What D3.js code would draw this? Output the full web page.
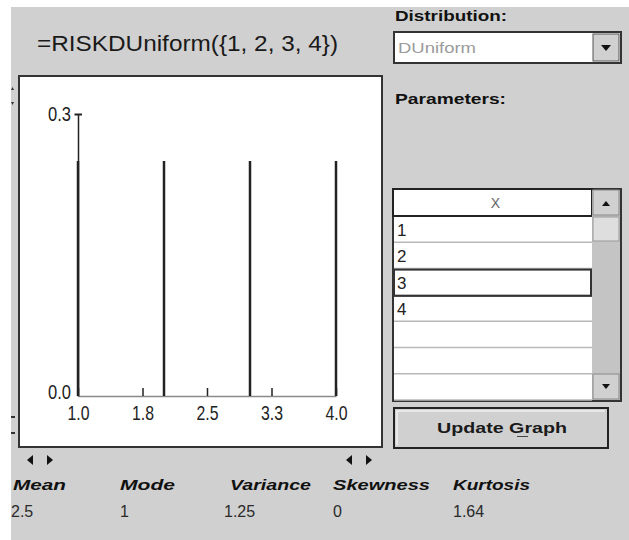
<!DOCTYPE html>
<html><head><meta charset="utf-8">
<script src="https://cdn.jsdelivr.net/npm/d3@7"></script>
<style>body{margin:0;background:#fff}svg{display:block}text{font-family:"Liberation Sans",Arial,sans-serif}</style>
</head><body>
<script>
// ---- data ----
const values = [1, 2, 3, 4];
const probs = [0.25, 0.25, 0.25, 0.25];
const xTickValues = [1, 1.75, 2.5, 3.25, 4];
const xTickLabels = ["1.0", "1.8", "2.5", "3.3", "4.0"];
const yTickValues = [0, 0.3];
const yTickLabels = ["0.0", "0.3"];
const statNames = ["Mean", "Mode", "Variance", "Skewness", "Kurtosis"];
const statValues = ["2.5", "1", "1.25", "0", "1.64"];
const paramRows = ["1", "2", "3", "4", "", "", ""];
const formulaText = "=RISKDUniform({1, 2, 3, 4})";
const distName = "DUniform";

const W = 629, H = 540;
const svg = d3.select("body").append("svg").attr("width", W).attr("height", H);
const GRAY = "#d0d0d0";
const NARROW = "'Liberation Sans Narrow','Liberation Sans',sans-serif";

svg.append("rect").attr("width", W).attr("height", H).attr("fill", "#fff");
svg.append("rect").attr("x", 11).attr("y", 7).attr("width", W - 11).attr("height", H - 7).attr("fill", GRAY);

// title
svg.append("text").attr("x", 37).attr("y", 51).attr("font-size", 22).attr("fill", "#1a1a1a")
  .attr("textLength", 301).attr("lengthAdjust", "spacingAndGlyphs").text(formulaText);

// plot frame
svg.append("rect").attr("x", 19).attr("y", 76).attr("width", 363).attr("height", 371)
  .attr("fill", "#fff").attr("stroke", "#333").attr("stroke-width", 2);

// small spinner marks at left edge
[[87, "up"], [104, "down"], [417, "dash"], [433, "dash"]].forEach(([yy, t]) => {
  if (t === "up") svg.append("path").attr("d", `M11,${yy+3} L14,${yy+3} L12.5,${yy} Z`).attr("fill", "#333");
  else if (t === "down") svg.append("path").attr("d", `M11,${yy-2} L14,${yy-2} L12.5,${yy+1} Z`).attr("fill", "#333");
  else svg.append("rect").attr("x", 11).attr("y", yy - 1).attr("width", 4).attr("height", 2).attr("fill", "#333");
});

// scales
const x = d3.scaleLinear().domain([1, 4]).range([78, 336]);
const y = d3.scaleLinear().domain([0, 0.3]).range([396, 114]);

// x axis
const xAxis = d3.axisBottom(x).tickValues(xTickValues)
  .tickFormat((d, i) => xTickLabels[i]).tickSizeInner(-8).tickSizeOuter(0).tickPadding(9);
const gx = svg.append("g").attr("transform", `translate(0,${y(0)})`).call(xAxis);
gx.select(".domain").attr("stroke", "#8a8a8a").attr("stroke-width", 1.5);
gx.selectAll(".tick line").attr("stroke", "#222").attr("stroke-width", 1.5);
gx.selectAll(".tick text").attr("font-size", 21).attr("fill", "#222")
  .attr("textLength", 22).attr("lengthAdjust", "spacingAndGlyphs")
  .attr("font-family", NARROW);

// y axis
const yAxis = d3.axisLeft(y).tickValues(yTickValues)
  .tickFormat((d, i) => yTickLabels[i]).tickSizeInner(0).tickSizeOuter(0).tickPadding(7);
const gy = svg.append("g").attr("transform", `translate(${x(1)},0)`).call(yAxis);
gy.select(".domain").attr("stroke", "#222").attr("stroke-width", 1.5);
gy.selectAll(".tick text").attr("font-size", 21).attr("fill", "#222")
  .attr("textLength", 23).attr("lengthAdjust", "spacingAndGlyphs")
  .attr("font-family", NARROW);
gy.selectAll(".tick").filter(d => d === 0).select("text").attr("dy", "0.12em");
gy.selectAll(".tick").filter(d => d > 0).append("line")
  .attr("x1", -3.5).attr("x2", 4).attr("stroke", "#222").attr("stroke-width", 2);

// bars (discrete probability spikes)
svg.append("g").selectAll("line").data(values).join("line")
  .attr("x1", d => x(d)).attr("x2", d => x(d))
  .attr("y1", y(0)).attr("y2", (d, i) => y(probs[i]))
  .attr("stroke", "#222").attr("stroke-width", 2.5);

// arrows under plot
function tri(cx, cy, dir) {
  const d = dir === "L" ? `M${cx+3},${cy-5} L${cx+3},${cy+5} L${cx-3},${cy} Z`
                        : `M${cx-3},${cy-5} L${cx-3},${cy+5} L${cx+3},${cy} Z`;
  svg.append("path").attr("d", d).attr("fill", "#111");
}
tri(30, 460, "L"); tri(50, 460, "R"); tri(349, 460, "L"); tri(369, 460, "R");

// statistics
const statX = [13, 120, 230, 333, 453];
const statW = [53, 55, 81, 97, 77];
svg.append("g").selectAll("text").data(statNames).join("text")
  .attr("x", (d, i) => statX[i]).attr("y", 490)
  .attr("font-size", 15).attr("font-weight", "bold").attr("font-style", "italic")
  .attr("fill", "#111").attr("textLength", (d, i) => statW[i]).attr("lengthAdjust", "spacingAndGlyphs")
  .text(d => d);
svg.append("g").selectAll("text").data(statValues).join("text")
  .attr("x", (d, i) => i === 0 ? 11 : statX[i] - (i === 2 ? 6 : 0)).attr("y", 517)
  .attr("font-size", 16).attr("fill", "#2a2a2a")
  .text(d => d);

// right panel
svg.append("text").attr("x", 395).attr("y", 21).attr("font-size", 15).attr("font-weight", "bold")
  .attr("fill", "#111").attr("textLength", 112).attr("lengthAdjust", "spacingAndGlyphs").text("Distribution:");
svg.append("rect").attr("x", 394).attr("y", 32).attr("width", 227).attr("height", 31)
  .attr("fill", "#fff").attr("stroke", "#333").attr("stroke-width", 2);
svg.append("text").attr("x", 398).attr("y", 53).attr("font-size", 14).attr("fill", "#9a9a9a")
  .attr("textLength", 78).attr("lengthAdjust", "spacingAndGlyphs").text(distName);
svg.append("rect").attr("x", 593).attr("y", 34).attr("width", 26).attr("height", 27)
  .attr("fill", GRAY).attr("stroke", "#555").attr("stroke-width", 1);
svg.append("path").attr("d", "M601,45 L611,45 L606,51 Z").attr("fill", "#111");

svg.append("text").attr("x", 395).attr("y", 104).attr("font-size", 15).attr("font-weight", "bold")
  .attr("fill", "#111").attr("textLength", 111).attr("lengthAdjust", "spacingAndGlyphs").text("Parameters:");

// parameter table
const tX = 393, tY = 189, tW = 228, tH = 212, colW = 199;
svg.append("rect").attr("x", tX).attr("y", tY).attr("width", tW).attr("height", tH)
  .attr("fill", "#fff").attr("stroke", "#333").attr("stroke-width", 2);
svg.append("rect").attr("x", tX).attr("y", tY).attr("width", colW).attr("height", 27)
  .attr("fill", "#fff").attr("stroke", "#222").attr("stroke-width", 2);
svg.append("text").attr("x", tX + colW / 2 + 3).attr("y", tY + 19).attr("text-anchor", "middle")
  .attr("font-size", 14).attr("fill", "#666").text("X");
const rowH = 26.3, row0 = tY + 27;
const rows = svg.append("g").selectAll("g").data(paramRows).join("g")
  .attr("transform", (d, i) => `translate(${tX},${row0 + i * rowH})`);
rows.append("line").attr("x1", 1).attr("x2", colW).attr("y1", rowH).attr("y2", rowH)
  .attr("stroke", "#b8b8b8").attr("stroke-width", 1.5);
rows.append("text").attr("x", 4).attr("y", 20).attr("font-size", 17).attr("fill", "#222")
  .attr("font-family", NARROW).text(d => d);
rows.filter((d, i) => i === 2).append("rect").attr("x", 1).attr("y", 1).attr("width", colW - 2).attr("height", rowH)
  .attr("fill", "none").attr("stroke", "#333").attr("stroke-width", 2);

// scrollbar
const sX = tX + colW;
svg.append("rect").attr("x", sX).attr("y", tY + 1).attr("width", tW - colW - 1).attr("height", tH - 2).attr("fill", "#c4c4c4");
svg.append("rect").attr("x", sX + 1).attr("y", tY + 1).attr("width", 26).attr("height", 25)
  .attr("fill", GRAY).attr("stroke", "#888");
svg.append("path").attr("d", `M${sX+10},206 L${sX+18},206 L${sX+14},201 Z`).attr("fill", "#111");
svg.append("rect").attr("x", sX + 1).attr("y", 217).attr("width", 26).attr("height", 24)
  .attr("fill", "#dedede").attr("stroke", "#999");
svg.append("rect").attr("x", sX + 1).attr("y", 374).attr("width", 26).attr("height", 25)
  .attr("fill", GRAY).attr("stroke", "#888");
svg.append("path").attr("d", `M${sX+10},384 L${sX+18},384 L${sX+14},389 Z`).attr("fill", "#111");

// update graph button
svg.append("rect").attr("x", 394).attr("y", 408).attr("width", 214).attr("height", 40)
  .attr("fill", GRAY).attr("stroke", "#222").attr("stroke-width", 2);
svg.append("path").attr("d", "M397,445 L397,411 L605,411").attr("fill", "none").attr("stroke", "#f0f0f0").attr("stroke-width", 1.5);
svg.append("text").attr("x", 437).attr("y", 433).attr("font-size", 15).attr("font-weight", "bold")
  .attr("fill", "#1a1a1a").attr("textLength", 130).attr("lengthAdjust", "spacingAndGlyphs").text("Update Graph");
svg.append("line").attr("x1", 517).attr("x2", 528).attr("y1", 436.5).attr("y2", 436.5)
  .attr("stroke", "#444").attr("stroke-width", 1);
</script>
</body></html>
